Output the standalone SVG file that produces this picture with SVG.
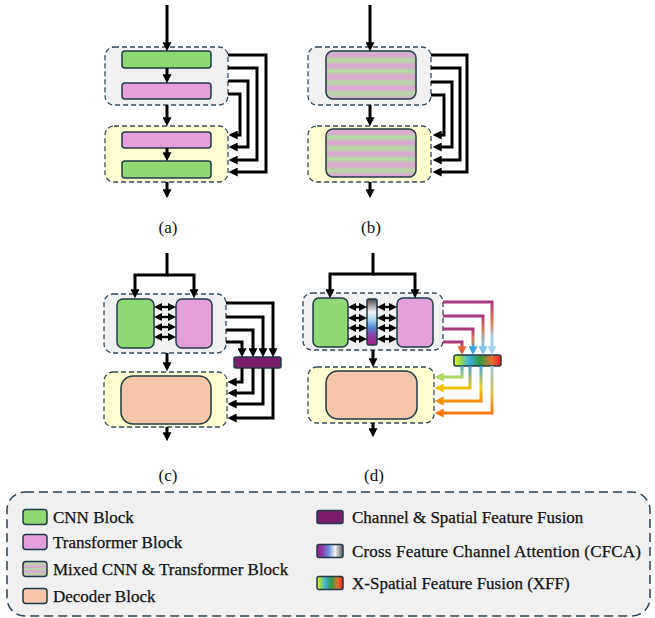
<svg xmlns="http://www.w3.org/2000/svg" width="655" height="618" viewBox="0 0 655 618">
  <style>
    .cont-gray { fill: #f1f1f1; stroke: #34495a; stroke-width: 1.3; stroke-dasharray: 5 3; }
    .cont-yel { fill: #fefed0; stroke: #34495a; stroke-width: 1.3; stroke-dasharray: 5 3; }
    .blk { stroke: #1f3a48; stroke-width: 1.5; }
    .cnn { fill: #90d874; }
    .trf { fill: #e4a0da; }
    .mix { fill: url(#stripes); }
    .dec { fill: #f6c6aa; }
    .fus { fill: #7a1d6b; }
    .wire { fill: none; stroke: #000; stroke-width: 3; }
    .thin { fill: none; stroke: #000; stroke-width: 2.4; }
    .cw { fill: none; stroke-width: 3; }
    .lbl { font-family: "Liberation Serif", "DejaVu Serif", serif; font-size: 17px; fill: #111; stroke: #111; stroke-width: 0.25; }
    .cap { font-family: "Liberation Serif", "DejaVu Serif", serif; font-size: 17px; fill: #111; text-anchor: middle; }
  </style>
  <defs>
    <marker id="ah" viewBox="0 0 10 10" refX="3" refY="5" markerWidth="9" markerHeight="9" markerUnits="userSpaceOnUse" orient="auto">
      <path d="M0,0 L10,5 L0,10 z" fill="#000"/>
    </marker>
    <marker id="ahs" viewBox="0 0 10 10" refX="3" refY="5" markerWidth="8" markerHeight="8" markerUnits="userSpaceOnUse" orient="auto-start-reverse">
      <path d="M0,0 L10,5 L0,10 z" fill="#000"/>
    </marker>
    <marker id="ah-or" viewBox="0 0 10 10" refX="3" refY="5" markerWidth="9" markerHeight="9" markerUnits="userSpaceOnUse" orient="auto">
      <path d="M0,0 L10,5 L0,10 z" fill="#e2683a"/>
    </marker>
    <marker id="ah-bl" viewBox="0 0 10 10" refX="3" refY="5" markerWidth="9" markerHeight="9" markerUnits="userSpaceOnUse" orient="auto">
      <path d="M0,0 L10,5 L0,10 z" fill="#3fa3dc"/>
    </marker>
    <marker id="ah-lb" viewBox="0 0 10 10" refX="3" refY="5" markerWidth="9" markerHeight="9" markerUnits="userSpaceOnUse" orient="auto">
      <path d="M0,0 L10,5 L0,10 z" fill="#82c2ea"/>
    </marker>
    <marker id="ah-pb" viewBox="0 0 10 10" refX="3" refY="5" markerWidth="9" markerHeight="9" markerUnits="userSpaceOnUse" orient="auto">
      <path d="M0,0 L10,5 L0,10 z" fill="#a6d2f0"/>
    </marker>
    <marker id="ah-lg" viewBox="0 0 10 10" refX="3" refY="5" markerWidth="9" markerHeight="9" markerUnits="userSpaceOnUse" orient="auto">
      <path d="M0,0 L10,5 L0,10 z" fill="#b0d860"/>
    </marker>
    <marker id="ah-yl" viewBox="0 0 10 10" refX="3" refY="5" markerWidth="9" markerHeight="9" markerUnits="userSpaceOnUse" orient="auto">
      <path d="M0,0 L10,5 L0,10 z" fill="#f2c200"/>
    </marker>
    <marker id="ah-o1" viewBox="0 0 10 10" refX="3" refY="5" markerWidth="9" markerHeight="9" markerUnits="userSpaceOnUse" orient="auto">
      <path d="M0,0 L10,5 L0,10 z" fill="#f49000"/>
    </marker>
    <marker id="ah-o2" viewBox="0 0 10 10" refX="3" refY="5" markerWidth="9" markerHeight="9" markerUnits="userSpaceOnUse" orient="auto">
      <path d="M0,0 L10,5 L0,10 z" fill="#f47a10"/>
    </marker>

    <!-- horizontal pink/green bands of the mixed block -->
    <linearGradient id="stripes" gradientUnits="userSpaceOnUse" x1="0" y1="0" x2="0" y2="11" spreadMethod="repeat">
      <stop offset="0" stop-color="#e0a2d8"/>
      <stop offset="0.5" stop-color="#b2dca0"/>
      <stop offset="1" stop-color="#e0a2d8"/>
    </linearGradient>
    <linearGradient id="stripes-sm" x1="0" y1="0" x2="0" y2="0.34" spreadMethod="repeat">
      <stop offset="0" stop-color="#e0a2d8"/>
      <stop offset="0.5" stop-color="#b2dca0"/>
      <stop offset="1" stop-color="#e0a2d8"/>
    </linearGradient>
    <!-- CFCA bar: gray top, white, blue, magenta bottom -->
    <linearGradient id="cfca" x1="0" y1="0" x2="0" y2="1">
      <stop offset="0" stop-color="#4a4a4a"/>
      <stop offset="0.28" stop-color="#f4f4f4"/>
      <stop offset="0.48" stop-color="#9ccbe8"/>
      <stop offset="0.62" stop-color="#4d86d6"/>
      <stop offset="0.8" stop-color="#8c3aa2"/>
      <stop offset="1" stop-color="#a4208a"/>
    </linearGradient>
    <linearGradient id="cfca-h" x1="1" y1="0" x2="0" y2="0">
      <stop offset="0" stop-color="#5a5a5a"/>
      <stop offset="0.3" stop-color="#f4f4f4"/>
      <stop offset="0.55" stop-color="#6c8ee0"/>
      <stop offset="0.8" stop-color="#8c3aa2"/>
      <stop offset="1" stop-color="#a4208a"/>
    </linearGradient>
    <!-- XFF bar: yellow, blue, green, orange, red -->
    <linearGradient id="xff" x1="0" y1="0" x2="1" y2="0">
      <stop offset="0" stop-color="#f2f21e"/>
      <stop offset="0.12" stop-color="#a4dc40"/>
      <stop offset="0.32" stop-color="#3cb0e2"/>
      <stop offset="0.55" stop-color="#2e9a3e"/>
      <stop offset="0.8" stop-color="#e27232"/>
      <stop offset="1" stop-color="#f01a18"/>
    </linearGradient>

    <!-- coloured wires feeding the XFF bar -->
    <linearGradient id="in1" gradientUnits="userSpaceOnUse" x1="0" y1="302" x2="0" y2="350">
      <stop offset="0" stop-color="#a8367f"/>
      <stop offset="0.4" stop-color="#e27a50"/>
      <stop offset="0.75" stop-color="#a6d2f0"/>
      <stop offset="1" stop-color="#a6d2f0"/>
    </linearGradient>
    <linearGradient id="in2" gradientUnits="userSpaceOnUse" x1="0" y1="316" x2="0" y2="350">
      <stop offset="0" stop-color="#a8367f"/>
      <stop offset="0.4" stop-color="#e27a50"/>
      <stop offset="0.8" stop-color="#82c2ea"/>
      <stop offset="1" stop-color="#82c2ea"/>
    </linearGradient>
    <linearGradient id="in3" gradientUnits="userSpaceOnUse" x1="0" y1="329" x2="0" y2="350">
      <stop offset="0" stop-color="#a8367f"/>
      <stop offset="0.45" stop-color="#e27a50"/>
      <stop offset="1" stop-color="#3fa3dc"/>
    </linearGradient>
    <linearGradient id="in4" gradientUnits="userSpaceOnUse" x1="0" y1="342" x2="0" y2="350">
      <stop offset="0" stop-color="#a8367f"/>
      <stop offset="1" stop-color="#e2683a"/>
    </linearGradient>
    <!-- coloured wires leaving the XFF bar -->
    <linearGradient id="out1" gradientUnits="userSpaceOnUse" x1="0" y1="366" x2="0" y2="377">
      <stop offset="0" stop-color="#4aa8c8"/>
      <stop offset="1" stop-color="#b0d860"/>
    </linearGradient>
    <linearGradient id="out2" gradientUnits="userSpaceOnUse" x1="0" y1="366" x2="0" y2="388">
      <stop offset="0" stop-color="#3fa3dc"/>
      <stop offset="1" stop-color="#f2c200"/>
    </linearGradient>
    <linearGradient id="out3" gradientUnits="userSpaceOnUse" x1="0" y1="366" x2="0" y2="401">
      <stop offset="0" stop-color="#3fa3dc"/>
      <stop offset="0.6" stop-color="#e8d030"/>
      <stop offset="1" stop-color="#f49000"/>
    </linearGradient>
    <linearGradient id="out4" gradientUnits="userSpaceOnUse" x1="0" y1="366" x2="0" y2="413">
      <stop offset="0" stop-color="#9ccbe8"/>
      <stop offset="0.6" stop-color="#e8c040"/>
      <stop offset="1" stop-color="#f47a10"/>
    </linearGradient>
  </defs>

  <!-- (a) sequential CNN / Transformer stages -->
  <g id="a-encoder">
    <rect class="cont-gray" x="105" y="47" width="123" height="58" rx="9"/>
    <rect class="blk cnn" x="122" y="51" width="89" height="17" rx="3"/>
    <rect class="blk trf" x="122" y="83" width="89" height="16" rx="3"/>
  </g>
  <g id="a-decoder">
    <rect class="cont-yel" x="105" y="126" width="123" height="56" rx="9"/>
    <rect class="blk trf" x="122" y="132" width="89" height="16" rx="3"/>
    <rect class="blk cnn" x="122" y="161" width="89" height="17" rx="3"/>
  </g>

  <!-- (b) mixed blocks -->
  <g id="b-encoder">
    <rect class="cont-gray" x="308" y="47" width="123" height="58" rx="9"/>
    <rect class="blk mix" x="326" y="51" width="90" height="48" rx="7"/>
  </g>
  <g id="b-decoder">
    <rect class="cont-yel" x="308" y="126" width="123" height="56" rx="9"/>
    <rect class="blk mix" x="326" y="129" width="90" height="48" rx="7"/>
  </g>

  <!-- (c) parallel branches with channel & spatial fusion -->
  <g id="c-encoder">
    <rect class="cont-gray" x="104" y="294" width="122" height="59" rx="9"/>
    <rect class="blk cnn" x="117" y="299" width="37" height="49" rx="6"/>
    <rect class="blk trf" x="176" y="299" width="36" height="49" rx="6"/>
  </g>
  <g id="c-decoder">
    <rect class="cont-yel" x="104" y="372" width="123" height="55" rx="9"/>
    <rect class="blk dec" x="121" y="376" width="90" height="48" rx="12"/>
  </g>
  <g id="c-fusion">
    <rect class="blk fus" x="234" y="357" width="47" height="11" rx="2"/>
  </g>

  <!-- (d) parallel branches with CFCA and XFF -->
  <g id="d-encoder">
    <rect class="cont-gray" x="303" y="293" width="140" height="57" rx="9"/>
    <rect class="blk cnn" x="313" y="298" width="35" height="49" rx="6"/>
    <rect class="blk trf" x="397" y="298" width="36" height="49" rx="6"/>
  </g>
  <g id="d-cfca">
    <rect class="blk" fill="url(#cfca)" x="367" y="299" width="10" height="46" rx="2"/>
  </g>
  <g id="d-decoder">
    <rect class="cont-yel" x="308" y="367" width="126" height="56" rx="9"/>
    <rect class="blk dec" x="326" y="371" width="91" height="48" rx="12"/>
  </g>
  <g id="d-xff">
    <rect class="blk" fill="url(#xff)" x="454" y="355" width="47" height="11" rx="2"/>
  </g>

  <g id="connectors">
    <!-- (a) -->
    <g class="wire" marker-end="url(#ah)">
      <path d="M167,5 V45"/>
      <path d="M167,68 V77"/>
      <path d="M167,105 V120"/>
      <path d="M167,148 V155"/>
      <path d="M167,182 V192"/>
      <path d="M228,55 H266 V172 H235"/>
      <path d="M228,68 H257 V160 H235"/>
      <path d="M228,81 H248 V147 H235"/>
      <path d="M228,94 H240 V135 H235"/>
    </g>
    <!-- (b) -->
    <g class="wire" marker-end="url(#ah)">
      <path d="M370,5 V45"/>
      <path d="M370,105 V120"/>
      <path d="M370,182 V192"/>
      <path d="M431,55 H467 V172 H439"/>
      <path d="M431,68 H460 V160 H439"/>
      <path d="M431,82 H452 V147 H439"/>
      <path d="M431,95 H444 V135 H439"/>
    </g>
    <!-- (c) -->
    <g class="wire" marker-end="url(#ah)">
      <path d="M167,253 V275 H135 V292"/>
      <path d="M167,275 H194 V292"/>
      <path d="M167,353 V365"/>
      <path d="M167,427 V435"/>
      <path d="M226,303 H273 V351"/>
      <path d="M226,317 H263 V351"/>
      <path d="M226,330 H253 V351"/>
      <path d="M226,342 H242 V351"/>
      <path d="M242,368 V382 H234"/>
      <path d="M253,368 V393 H234"/>
      <path d="M263,368 V404 H234"/>
      <path d="M273,368 V418 H234"/>
    </g>
    <g class="thin" marker-start="url(#ahs)" marker-end="url(#ahs)">
      <path d="M159.6,307 H170.4"/>
      <path d="M159.6,317 H170.4"/>
      <path d="M159.6,327 H170.4"/>
      <path d="M159.6,337 H170.4"/>
    </g>
    <!-- (d) -->
    <g class="wire" marker-end="url(#ah)">
      <path d="M373,253 V274 H330 V292"/>
      <path d="M373,274 H415 V292"/>
      <path d="M373,350 V361"/>
      <path d="M373,423 V431"/>
    </g>
    <g class="thin" marker-start="url(#ahs)" marker-end="url(#ahs)">
      <path d="M353.6,307 H361.4"/>
      <path d="M353.6,318 H361.4"/>
      <path d="M353.6,328 H361.4"/>
      <path d="M353.6,339 H361.4"/>
      <path d="M382.6,307 H391.4"/>
      <path d="M382.6,318 H391.4"/>
      <path d="M382.6,328 H391.4"/>
      <path d="M382.6,339 H391.4"/>
    </g>
    <path class="cw" stroke="url(#in1)" marker-end="url(#ah-pb)" d="M443,302 H492 V349"/>
    <path class="cw" stroke="url(#in2)" marker-end="url(#ah-lb)" d="M443,316 H483 V349"/>
    <path class="cw" stroke="url(#in3)" marker-end="url(#ah-bl)" d="M443,329 H473 V349"/>
    <path class="cw" stroke="url(#in4)" marker-end="url(#ah-or)" d="M443,342 H462 V349"/>
    <path class="cw" stroke="url(#out1)" marker-end="url(#ah-lg)" d="M462,366 V377 H441"/>
    <path class="cw" stroke="url(#out2)" marker-end="url(#ah-yl)" d="M470,366 V388 H441"/>
    <path class="cw" stroke="url(#out3)" marker-end="url(#ah-o1)" d="M481,366 V401 H441"/>
    <path class="cw" stroke="url(#out4)" marker-end="url(#ah-o2)" d="M492,366 V413 H441"/>
  </g>

  <!-- panel captions -->
  <text class="cap" x="168" y="233">(a)</text>
  <text class="cap" x="371" y="233">(b)</text>
  <text class="cap" x="168" y="481">(c)</text>
  <text class="cap" x="374" y="481">(d)</text>

  <!-- legend -->
  <g id="legend">
    <rect x="7" y="492" width="643" height="124" rx="18" fill="#f0f0f0" stroke="#2a3f4f" stroke-width="1.5" stroke-dasharray="9 5"/>
    <rect class="blk cnn" x="23" y="509.5" width="24" height="15" rx="3"/>
    <text class="lbl" x="53" y="523">CNN Block</text>
    <rect class="blk trf" x="23" y="534.5" width="24" height="15" rx="3"/>
    <text class="lbl" x="53" y="548">Transformer Block</text>
    <rect class="blk" fill="url(#stripes-sm)" x="23" y="561.5" width="24" height="15" rx="3"/>
    <text class="lbl" x="53" y="575">Mixed CNN &amp; Transformer Block</text>
    <rect class="blk dec" x="23" y="588.5" width="24" height="15" rx="3"/>
    <text class="lbl" x="53" y="602">Decoder Block</text>

    <rect class="blk fus" x="317" y="510.5" width="26" height="13" rx="2"/>
    <text class="lbl" x="352" y="523">Channel &amp; Spatial Feature Fusion</text>
    <rect class="blk" fill="url(#cfca-h)" x="317" y="544.5" width="26" height="13" rx="2"/>
    <text class="lbl" x="352" y="557" textLength="289" lengthAdjust="spacing">Cross Feature Channel Attention (CFCA)</text>
    <rect class="blk" fill="url(#xff)" x="317" y="576.5" width="26" height="13" rx="2"/>
    <text class="lbl" x="352" y="589">X-Spatial Feature Fusion (XFF)</text>
  </g>
</svg>
